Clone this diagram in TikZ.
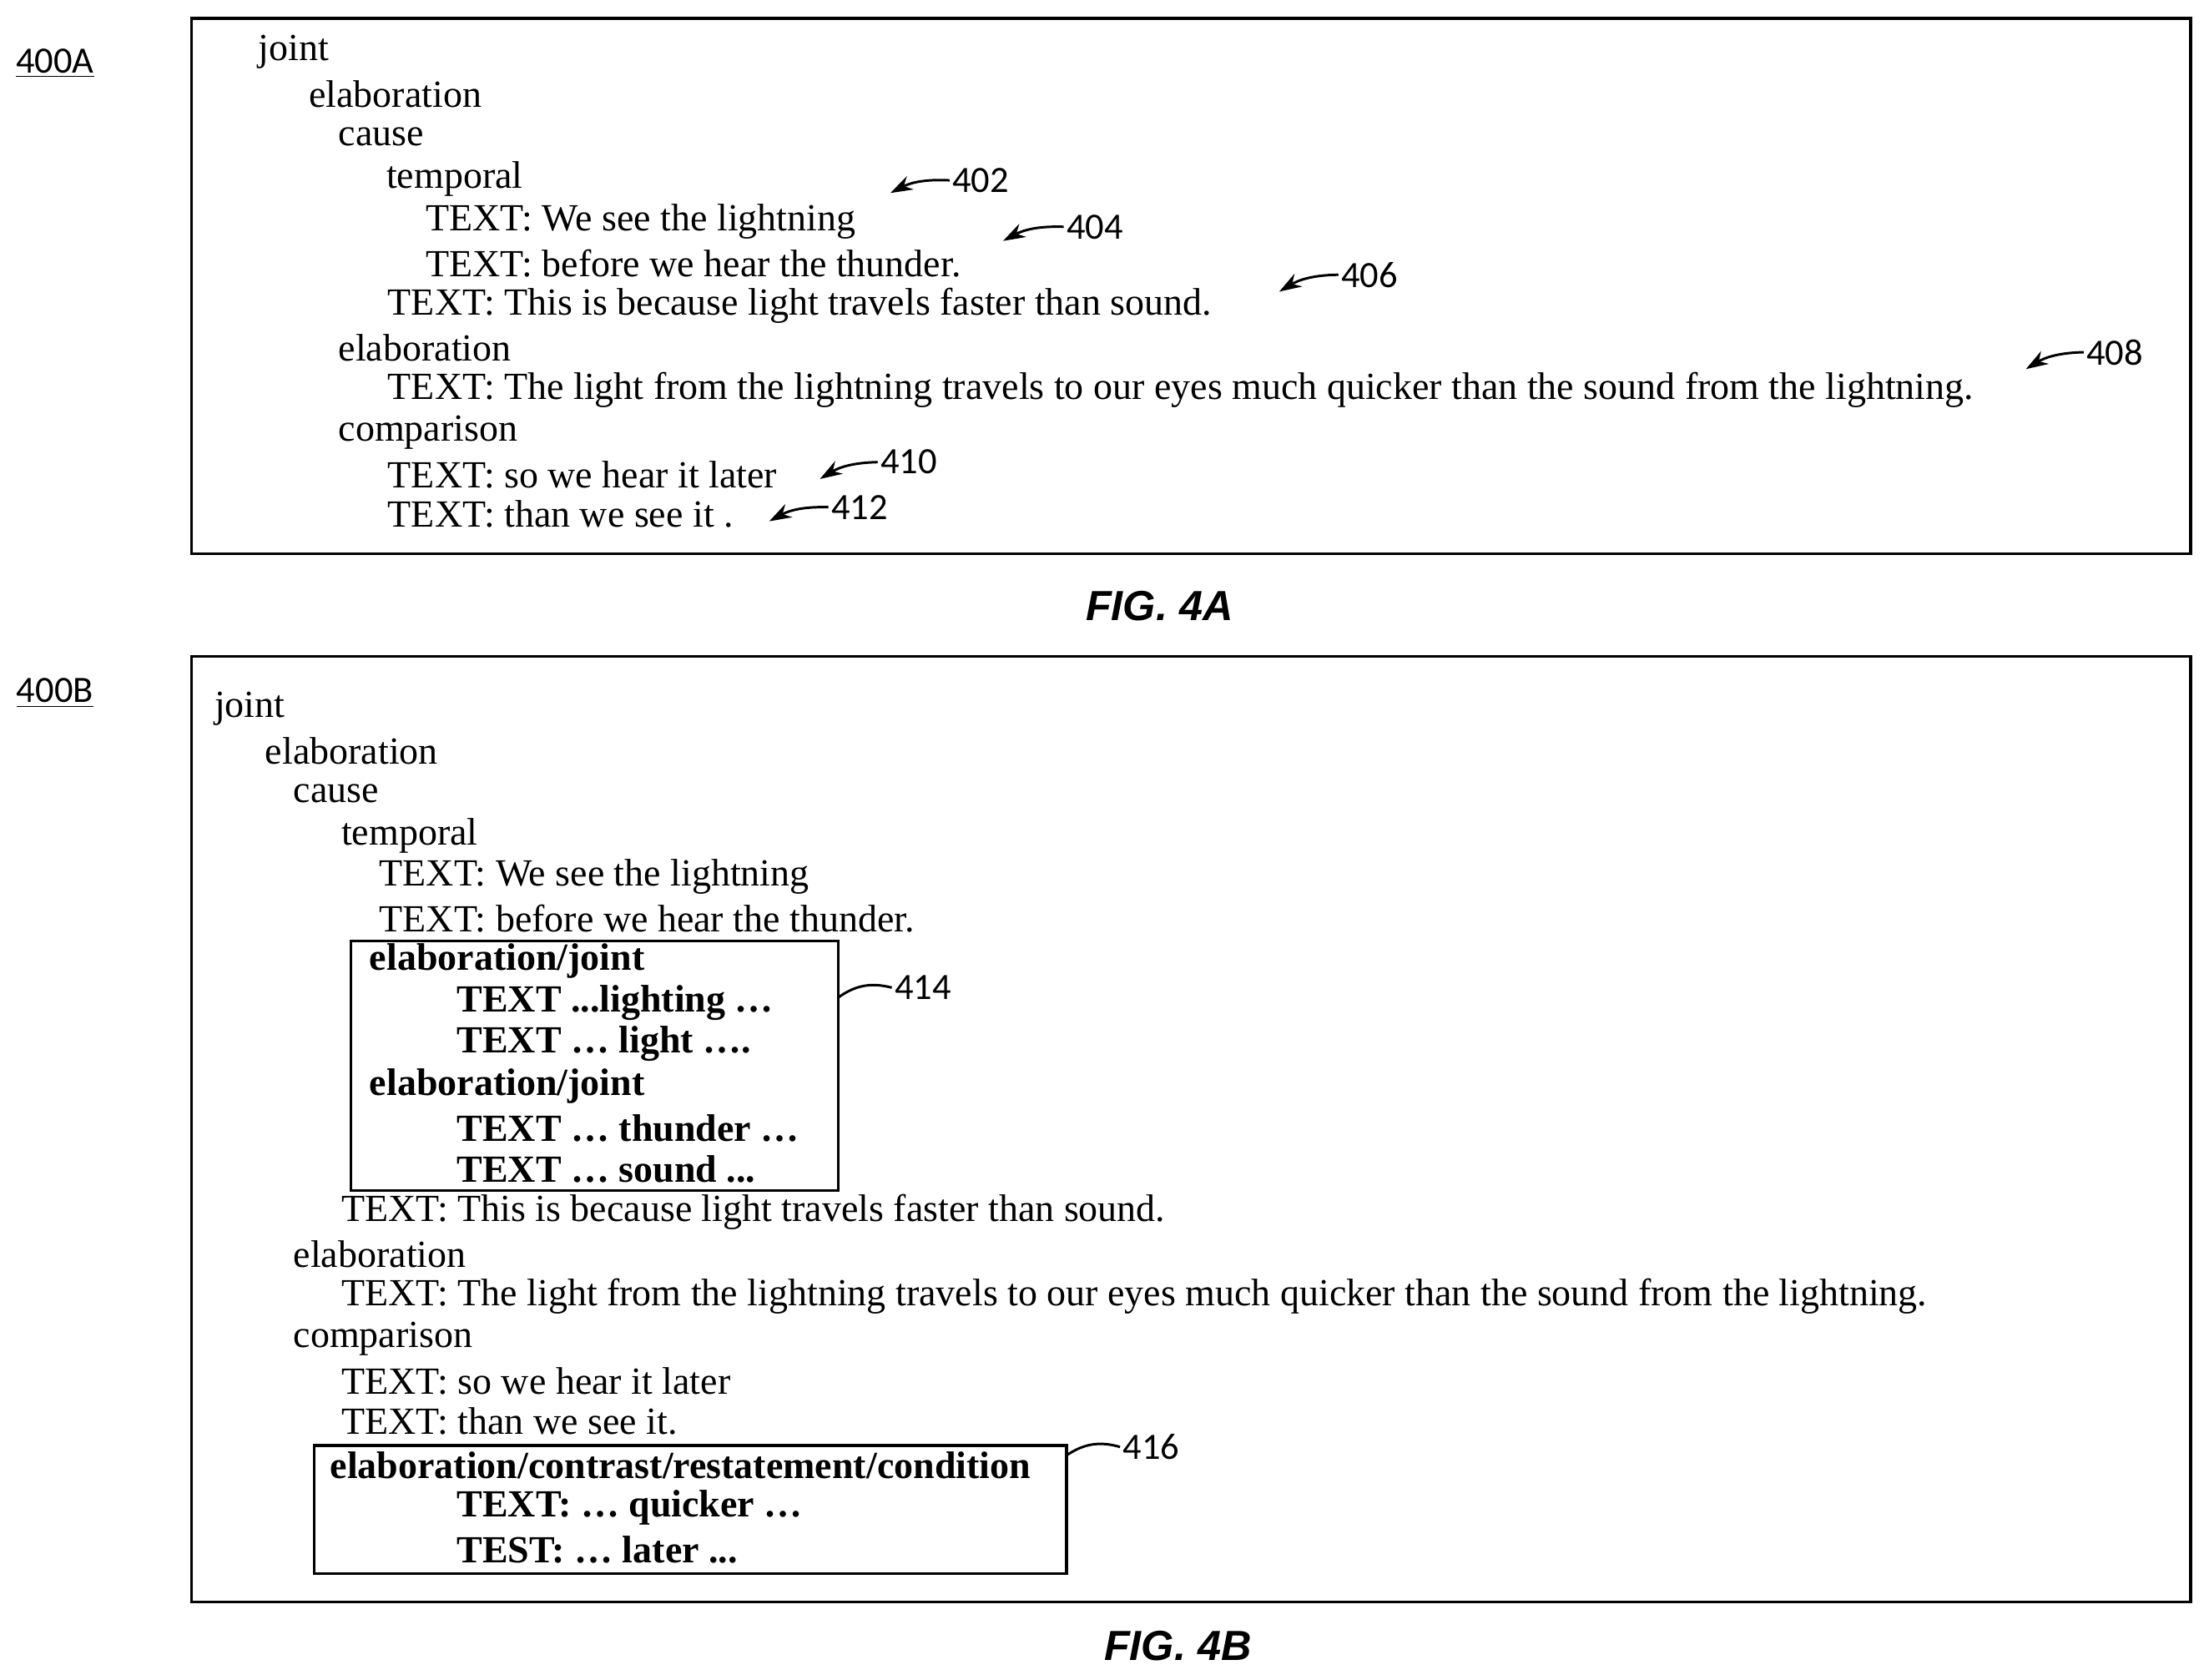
\documentclass[tikz,border=0pt]{standalone}
\usepackage{fontspec}
\setmainfont{Liberation Serif}
\newfontfamily\labfont{Carlito}
\newfontfamily\figfont{Liberation Sans}
\usetikzlibrary{arrows.meta}
\tikzset{
  ln/.style={anchor=west, inner sep=0pt, font=\fontsize{15.5}{18}\selectfont},
  bl/.style={ln, font=\fontsize{15.5}{18}\selectfont\bfseries},
  lab/.style={anchor=west, inner sep=1pt, font=\labfont\fontsize{15}{18}\selectfont},
  ref/.style={inner sep=0pt, font=\labfont\fontsize{15}{18}\selectfont},
  fig/.style={font=\figfont\fontsize{17}{20}\selectfont\bfseries\itshape},
  frame/.style={draw, line width=1.2pt},
  ptr/.style={-{Stealth[length=9pt,width=6pt]}, line width=1pt}
}
\begin{document}
\begin{tikzpicture}[x=0.02cm, y=-0.02cm]
\useasboundingbox (0,0) rectangle (1568,1192);

% FIG 4A
\node[ref] (n400a) at (39,45) {\underline{400A}};
\draw[frame] (136,13) rectangle (1555,393);
\node[ln] (a1) at (183,37) {joint};
\node[ln] (a2) at (219,67) {elaboration};
\node[ln] (a3) at (240,97) {cause};
\node[ln] (a4) at (274,127) {temporal};
\node[ln] (a5) at (302,157) {TEXT: We see the lightning};
\node[ln] (a6) at (302,187) {TEXT: before we hear the thunder.};
\node[ln] (a7) at (275,217) {TEXT: This is because light travels faster than sound.};
\node[ln] (a8) at (240,247) {elaboration};
\node[ln] (a9) at (275,277) {TEXT: The light from the lightning travels to our eyes much quicker than the sound from the lightning.};
\node[ln] (a10) at (240,307) {comparison};
\node[ln] (a11) at (275,337) {TEXT: so we hear it later};
\node[ln] (a12) at (275,365) {TEXT: than we see it .};

\node[lab] (l402) at (674,128) {402};
\node[lab] (l404) at (755,161) {404};
\node[lab] (l406) at (950,195) {406};
\node[lab] (l408) at (1479,250) {408};
\node[lab] (l410) at (623,328) {410};
\node[lab] (l412) at (588,360) {412};
\coordinate (t402) at (632,137);
\coordinate (t404) at (712,171);
\coordinate (t406) at (908,207);
\coordinate (t408) at (1438,262);
\coordinate (t410) at (582,340);
\coordinate (t412) at (546,370);
\draw[ptr] (l402.west) to[bend right=15] (t402);
\draw[ptr] (l404.west) to[bend right=15] (t404);
\draw[ptr] (l406.west) to[bend right=15] (t406);
\draw[ptr] (l408.west) to[bend right=15] (t408);
\draw[ptr] (l410.west) to[bend right=15] (t410);
\draw[ptr] (l412.west) to[bend right=15] (t412);
\node[fig] (f4a) at (823,430) {FIG. 4A};

% FIG 4B
\node[ref] (n400b) at (39,492) {\underline{400B}};
\draw[frame] (136,466) rectangle (1555,1137);
\node[ln] (b1) at (152,503) {joint};
\node[ln] (b2) at (188,533) {elaboration};
\node[ln] (b3) at (208,563) {cause};
\node[ln] (b4) at (242,593) {temporal};
\node[ln] (b5) at (269,622) {TEXT: We see the lightning};
\node[ln] (b6) at (269,652) {TEXT: before we hear the thunder.};
\draw[frame] (249,668) rectangle (595,845);
\node[bl] (c1) at (262,682) {elaboration/joint};
\node[bl] (c2) at (324,712) {TEXT ...lighting \dots};
\node[bl] (c3) at (324,741) {TEXT \dots{} light \dots.};
\node[bl] (c4) at (262,771) {elaboration/joint};
\node[bl] (c5) at (324,801) {TEXT \dots{} thunder \dots};
\node[bl] (c6) at (324,830) {TEXT \dots{} sound ...};
\node[ln] (b7) at (242,860) {TEXT: This is because light travels faster than sound.};
\node[ln] (b8) at (208,890) {elaboration};
\node[ln] (b9) at (242,920) {TEXT: The light from the lightning travels to our eyes much quicker than the sound from the lightning.};
\node[ln] (b10) at (208,950) {comparison};
\node[ln] (b11) at (242,980) {TEXT: so we hear it later};
\node[ln] (b12) at (242,1009) {TEXT: than we see it.};
\draw[frame] (223,1026) rectangle (757,1117);
\node[bl] (d1) at (234,1040) {elaboration/contrast/restatement/condition};
\node[bl] (d2) at (324,1070) {TEXT: \dots{} quicker \dots};
\node[bl] (d3) at (324,1100) {TEST: \dots{} later ...};

\node[lab] (l414) at (633,701) {414};
\node[lab] (l416) at (795,1027) {416};
\coordinate (e414) at (595,708);
\coordinate (e416) at (757,1033);
\draw[line width=1pt] (l414.west) to[bend right=25] (e414);
\draw[line width=1pt] (l416.west) to[bend right=25] (e416);
\node[fig] (f4b) at (836,1168) {FIG. 4B};
\end{tikzpicture}
\end{document}
